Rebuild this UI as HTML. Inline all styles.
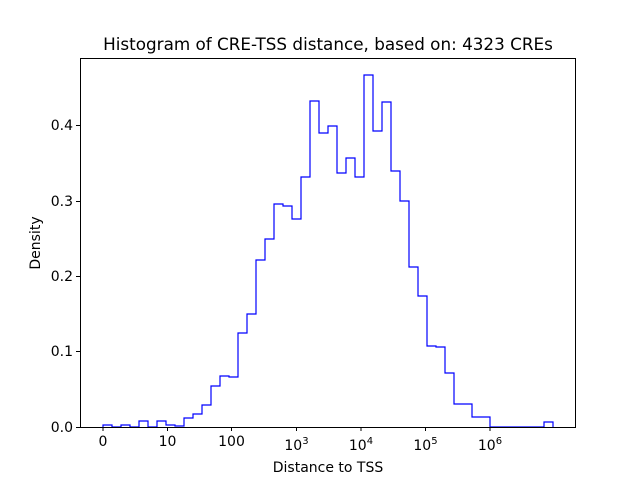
<!DOCTYPE html>
<html><head><style>body{margin:0;background:#fff}svg text{font-family:"DejaVu Sans","Liberation Sans",sans-serif;fill:#000}</style></head>
<body>
<svg width="640" height="480" viewBox="0 0 640 480" xmlns="http://www.w3.org/2000/svg">
<rect width="640" height="480" fill="#fff"/>
<path d="M103 427 V425 H112 V427 H121 V425 H130 V427 H139 V421 H148 V427 H157 V421 H166 V425 H175 V426 H184 V418 H193 V414 H202 V405 H211 V386 H220 V376 H229 V377 H238 V333 H247 V314 H256 V260 H265 V239 H274 V204 H283 V206 H292 V219 H301 V177 H310 V101 H319 V133 H328 V126 H337 V173 H346 V158 H355 V177 H364 V75 H373 V131 H382 V102 H391 V171 H400 V201 H409 V267 H418 V296 H427 V346 H436 V347 H445 V373 H454 V404 H472 V417 H490 V427 H544 V422 H553 V427" fill="none" stroke="#0000ff" stroke-width="1.2"/>
<rect x="80.5" y="58.5" width="495" height="369" fill="none" stroke="#000" stroke-width="1"/>
<g stroke="#000" stroke-width="1">
<line x1="103" y1="427" x2="103" y2="431"/><line x1="167.5" y1="427" x2="167.5" y2="431"/><line x1="231.5" y1="427" x2="231.5" y2="431"/><line x1="296.5" y1="427" x2="296.5" y2="431"/><line x1="361" y1="427" x2="361" y2="431"/><line x1="425.5" y1="427" x2="425.5" y2="431"/><line x1="490" y1="427" x2="490" y2="431"/>
<line x1="76" y1="427.5" x2="80" y2="427.5"/><line x1="76" y1="351.5" x2="80" y2="351.5"/><line x1="76" y1="276.5" x2="80" y2="276.5"/><line x1="76" y1="201.5" x2="80" y2="201.5"/><line x1="76" y1="125.5" x2="80" y2="125.5"/>
</g>
<g font-size="14" text-anchor="middle">
<text x="103" y="446">0</text><text x="167.5" y="446">10</text><text x="231.5" y="446">100</text>
<text x="296.5" y="450">10<tspan font-size="10" dy="-6">3</tspan></text>
<text x="361" y="450">10<tspan font-size="10" dy="-6">4</tspan></text>
<text x="425.5" y="450">10<tspan font-size="10" dy="-6">5</tspan></text>
<text x="490" y="450">10<tspan font-size="10" dy="-6">6</tspan></text>
<text x="328" y="472">Distance to TSS</text>
</g>
<g font-size="14" text-anchor="end">
<text x="73" y="432">0.0</text><text x="73" y="356">0.1</text><text x="73" y="281">0.2</text><text x="73" y="206">0.3</text><text x="73" y="130">0.4</text>
</g>
<text x="40" y="243" font-size="14" text-anchor="middle" transform="rotate(-90 40 243)">Density</text>
<text x="328" y="50" font-size="16.8" text-anchor="middle">Histogram of CRE-TSS distance, based on: 4323 CREs</text>
</svg>
</body></html>
